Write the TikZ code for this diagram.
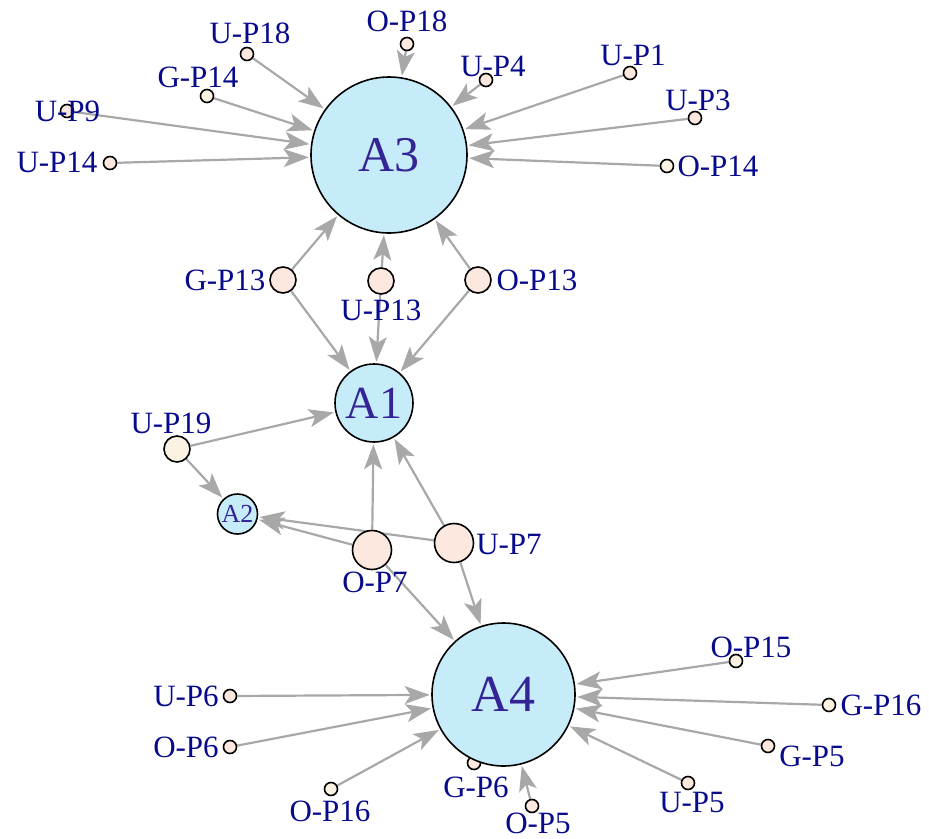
\documentclass[tikz,border=0pt]{standalone}
\usepackage{fontspec}
\setmainfont{Liberation Serif}
\usetikzlibrary{arrows.meta,backgrounds}
\definecolor{hubfill}{RGB}{198,235,249}
\definecolor{leaffill}{RGB}{252,232,222}
\definecolor{creamfill}{RGB}{251,242,226}
\definecolor{labelblue}{RGB}{8,10,140}
\definecolor{hubtext}{RGB}{52,36,150}
\definecolor{edgegray}{RGB}{168,168,168}
\tikzset{
  hub/.style={circle, draw=black, line width=1.6pt, fill=hubfill, inner sep=0pt,
              minimum size=#1, text=hubtext},
  leaf/.style={circle, draw=black, line width=1.6pt, fill=leaffill, inner sep=0pt,
               minimum size=#1},
  tag/.style={text=labelblue, inner sep=0pt, font=\fontsize{31}{31}\selectfont},
  link/.style={draw=edgegray, line width=2.2pt, shorten >=1.5pt,
               -{Stealth[length=25pt, width=18pt, inset=6pt]}},
}
\begin{document}
\begin{tikzpicture}[x=1pt, y=-1pt]
\useasboundingbox (0,0) rectangle (929,838);

% hubs and their satellites
\node[hub=156pt, font=\fontsize{50}{50}\selectfont] (A3) at (389,155) {A3};
\node[hub=78pt, font=\fontsize{46}{46}\selectfont] (A1) at (374,403) {A1};
\node[hub=40pt, font=\fontsize{26}{26}\selectfont] (A2) at (237.5,514) {A2};
\node[leaf=13pt] (GP6) at (474,763) {};
\node[hub=143pt, font=\fontsize{52}{52}\selectfont] (A4) at (503.5,694.5) {A4};

% satellites of A3
\node[leaf=13pt] (UP18) at (247,54) {};
\node[leaf=13pt] (OP18) at (407,44) {};
\node[leaf=13pt, fill=creamfill] (GP14) at (207,96) {};
\node[leaf=13pt] (UP9) at (67,111) {};
\node[leaf=13pt] (UP14) at (110,163) {};
\node[leaf=13pt] (UP4) at (486,80) {};
\node[leaf=13pt] (UP1) at (630,73) {};
\node[leaf=13pt] (UP3) at (695,118) {};
\node[leaf=13pt, fill=creamfill] (OP14) at (667,166) {};
\node[leaf=26pt] (GP13) at (283,280) {};
\node[leaf=26pt] (UP13) at (381,281) {};
\node[leaf=26pt] (OP13) at (478,280) {};

% around A1 and A2
\node[leaf=26pt, fill=creamfill] (UP19) at (177,449) {};
\node[leaf=39pt] (OP7) at (372,550) {};
\node[leaf=39pt] (UP7) at (454,543) {};

% satellites of A4
\node[leaf=13pt] (UP6) at (230,696) {};
\node[leaf=13pt] (OP6) at (230,747) {};
\node[leaf=13pt, fill=creamfill] (OP16) at (331,789) {};
\node[leaf=13pt] (OP5) at (532,806) {};
\node[leaf=13pt, fill=creamfill] (OP15) at (736,661) {};
\node[leaf=13pt, fill=creamfill] (GP16) at (829,705) {};
\node[leaf=13pt] (GP5) at (768,746) {};
\node[leaf=13pt] (UP5) at (688,783) {};

% labels
\node[tag] (tUP18) at (250,33) {U-P18};
\node[tag] (tOP18) at (407,21) {O-P18};
\node[tag] (tGP14) at (198,77) {G-P14};
\node[tag] (tUP9) at (67.5,111) {U-P9};
\node[tag] (tUP14) at (57,162) {U-P14};
\node[tag] (tUP4) at (493,66) {U-P4};
\node[tag] (tUP1) at (633,55) {U-P1};
\node[tag] (tUP3) at (698,100) {U-P3};
\node[tag] (tOP14) at (718,166) {O-P14};
\node[tag] (tGP13) at (225,280) {G-P13};
\node[tag] (tUP13) at (381,310) {U-P13};
\node[tag] (tOP13) at (537,280) {O-P13};
\node[tag] (tUP19) at (171,423) {U-P19};
\node[tag] (tOP7) at (375,582) {O-P7};
\node[tag] (tUP7) at (509,544) {U-P7};
\node[tag] (tUP6) at (186,696) {U-P6};
\node[tag] (tOP6) at (186,747) {O-P6};
\node[tag] (tOP16) at (330,811) {O-P16};
\node[tag] (tGP6) at (476,787) {G-P6};
\node[tag] (tOP5) at (538,823) {O-P5};
\node[tag] (tOP15) at (751,647) {O-P15};
\node[tag] (tGP16) at (881,705) {G-P16};
\node[tag] (tGP5) at (812,756) {G-P5};
\node[tag] (tUP5) at (692,802) {U-P5};

% directed links, drawn beneath the nodes
\begin{scope}[on background layer]
\foreach \s in {UP18,OP18,GP14,UP9,UP14,UP4,UP1,UP3,OP14,GP13,UP13,OP13}
  \draw[link] (\s) -- (A3);
\foreach \s in {GP13,UP13,OP13,UP19,OP7,UP7}
  \draw[link] (\s) -- (A1);
\foreach \s in {UP19,UP7,OP7}
  \draw[link] (\s) -- (A2);
\foreach \s in {OP7,UP7,UP6,OP6,OP16,OP5,OP15,GP16,GP5,UP5}
  \draw[link] (\s) -- (A4);
\end{scope}
\end{tikzpicture}
\end{document}
